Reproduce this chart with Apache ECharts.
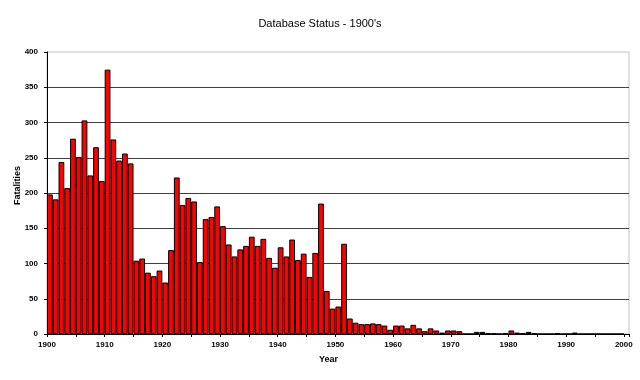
<!DOCTYPE html>
<html>
<head>
<meta charset="utf-8">
<script src="https://cdn.jsdelivr.net/npm/echarts@6/dist/echarts.min.js"></script>
<style>
html,body{margin:0;padding:0;background:#fff;}
#c{width:640px;height:380px;}
</style>
</head>
<body>
<div id="c"></div>
<script>
var titleText = "Database Status - 1900's";
var xAxisTitle = "Year";
var yAxisTitle = "Fatalities";
var firstYear = 1900;
var fatalities = [
  198,191,244,207,277,251,303,225,265,217,
  375,276,246,256,242,104,107,87,82,90,
  73,119,222,183,193,188,102,163,166,181,
  153,127,110,120,125,138,125,135,108,94,
  123,110,134,105,114,81,115,185,61,36,
  39,128,22,16,14,14,15,14,12,6,
  12,12,8,13,8,4,8,5,2,5,
  5,4,0,0,3,3,1,1,0,1,
  5,2,1,3,1,0,0,0,1,0,
  0,2,0,0,0,0,0,0,0,0
];
var years = fatalities.map(function(_, i){ return firstYear + i; });
var xTickLabels = [1900,1910,1920,1930,1940,1950,1960,1970,1980,1990,2000];
var yTickLabels = [0,50,100,150,200,250,300,350,400];

var FONT = "'Liberation Sans',Arial,sans-serif";

var chart = echarts.init(document.getElementById('c'), null, {renderer:'canvas'});
chart.setOption({
  animation: false,
  backgroundColor: '#ffffff',
  title: {
    text: titleText,
    left: 'center',
    top: 13,
    textStyle: {fontFamily: FONT, fontSize: 11, fontWeight: 'normal', color: '#000'}
  },
  graphic: [
    {type:'text', left: 319, top: 355, style:{text: xAxisTitle, font: 'bold 9px ' + FONT, fill:'#000'}},
    {type:'text', left: 13, top: 166, rotation: Math.PI/2, style:{text: yAxisTitle, font: 'bold 9px ' + FONT, fill:'#000'}}
  ],
  grid: {
    left: 47, top: 52, right: 11, bottom: 46,
    show: true, borderColor: '#c0c0c0', borderWidth: 1, backgroundColor: '#fff'
  },
  xAxis: {
    type: 'value',
    min: 1900, max: 2000.9, interval: 5,
    axisLine: {show: true, onZero: false, lineStyle: {color: '#000', width: 1}},
    axisTick: {show: true, length: 3, lineStyle: {color: '#000'}},
    splitLine: {show: false},
    axisLabel: {
      fontFamily: FONT, fontSize: 8, fontWeight: 'bold', color: '#000', margin: 7,
      showMaxLabel: true,
      formatter: function(v){ return xTickLabels.indexOf(Math.round(v*100)/100) >= 0 ? String(v) : ''; }
    }
  },
  yAxis: {
    type: 'value',
    min: 0, max: 400, interval: 50,
    axisLine: {show: true, lineStyle: {color: '#000', width: 1}},
    axisTick: {show: true, length: 3, lineStyle: {color: '#000'}},
    splitLine: {show: true, showMaxLine: false, lineStyle: {color: '#404040', width: 1}},
    axisLabel: {
      fontFamily: FONT, fontSize: 8, fontWeight: 'bold', color: '#000', margin: 9,
      formatter: function(v){ return yTickLabels.indexOf(v) >= 0 ? String(v) : ''; }
    }
  },
  series: [{
    type: 'bar',
    data: years.map(function(y, i){ return [y + 0.5, fatalities[i]]; }),
    barWidth: '100%',
    itemStyle: {color: '#ff0000', borderColor: '#000', borderWidth: 1}
  }]
});
</script>
</body>
</html>
